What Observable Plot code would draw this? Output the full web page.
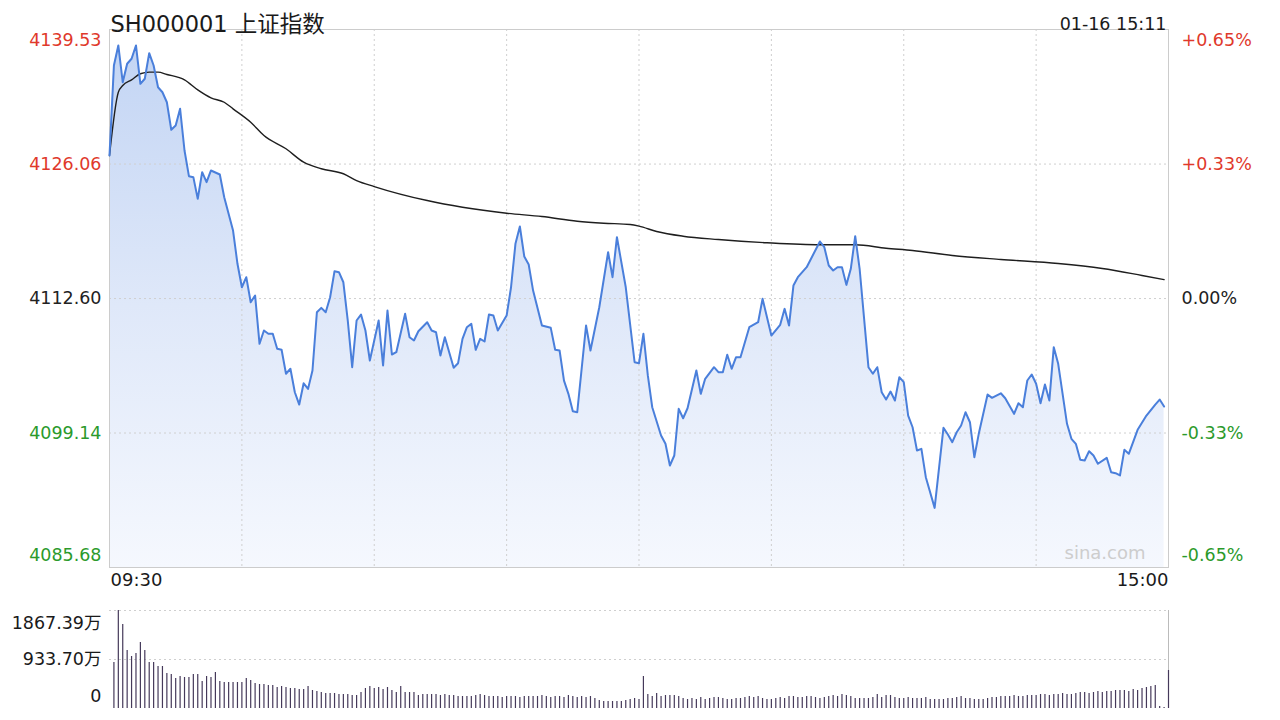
<!DOCTYPE html>
<html><head><meta charset="utf-8">
<script src="https://cdn.jsdelivr.net/npm/d3@7"></script>
<script src="https://cdn.jsdelivr.net/npm/@observablehq/plot@0.6"></script>
<style>
body{margin:0;background:#fff;width:1280px;height:720px;overflow:hidden;position:relative;font-family:"DejaVu Sans","Noto Sans CJK SC",sans-serif}
#main{position:absolute;left:0;top:0}
#vol{position:absolute;left:0;top:600px}
</style></head><body>
<div id="main"></div><div id="vol"></div>
<script>
// ---------- data ----------
const titleText = "SH000001 上证指数";
const stampText = "01-16 15:11";
const timeLabels = ["09:30", "15:00"];
const watermark = "sina.com";

const priceTicks = [4139.53, 4126.06, 4112.60, 4099.14, 4085.68];
const priceTickLabels = ["4139.53", "4126.06", "4112.60", "4099.14", "4085.68"];
const pctTickLabels = ["+0.65%", "+0.33%", "0.00%", "-0.33%", "-0.65%"];
const tickColors = ["#e0392b", "#e0392b", "#222222", "#2b9a2b", "#2b9a2b"];
const gridMinutes = [30, 60, 90, 120, 150, 180, 210];

const priceMin = [0,1,2,3,4,5,6,7,8,9,10,11,12,13,14,15,16,17,18,19,20,21,22,23,25,26,28,29,30,31,32,33,34,35,36,37,38,39,40,41,42,43,44,45,46,47,48,49,50,51,52,53,54,55,56,57,58,59,61,62,63,64,65,67,68,69,70,72,73,74,75,76,78,79,80,81,82,83,84,85,86,87,88,90,91,92,93,94,95,96,98,100,101,102,103,104,105,106,108,109,111,113,114,115,117,119,120,121,122,123,125,126,127,128,129,130,131,133,134,135,137,138,139,140,141,142,143,145,147,148,150,152,153,154,155,156,157,158,161,162,163,164,165,166,167,168,169,170,172,173,174,175,176,177,178,179,180,181,182,183,184,185,187,189,190,191,192,193,194,195,196,197,199,200,202,203,205,206,207,208,209,210,211,212,213,214,215,217,218,219,220,221,222,223,224,226,227,228,229,230,231,233,235,237,238,239];
const priceVal = [4126.92,4135.93,4137.93,4134.25,4136.10,4136.60,4137.93,4134.09,4134.60,4137.16,4135.93,4133.75,4133.25,4132.25,4129.49,4129.92,4131.59,4127.42,4124.85,4124.75,4122.58,4125.25,4124.25,4125.42,4125.02,4122.74,4119.41,4116.08,4113.73,4114.74,4112.23,4112.90,4108.07,4109.40,4109.07,4109.07,4107.57,4107.47,4105.07,4105.57,4103.22,4101.99,4104.12,4103.56,4105.40,4111.23,4111.67,4111.23,4112.73,4115.34,4115.24,4114.23,4110.40,4105.73,4110.40,4111.00,4109.40,4106.40,4110.40,4105.90,4111.40,4107.00,4107.23,4111.07,4108.73,4108.40,4109.33,4110.23,4109.40,4109.23,4106.90,4108.73,4105.67,4106.13,4108.57,4109.73,4110.07,4107.47,4108.57,4108.30,4111.00,4110.90,4109.40,4110.90,4113.73,4118.08,4119.81,4116.81,4116.01,4113.40,4109.90,4109.67,4107.47,4107.40,4104.39,4103.06,4101.32,4101.22,4109.90,4107.40,4111.73,4117.24,4114.74,4118.74,4113.73,4106.23,4106.13,4109.07,4104.90,4101.72,4098.89,4098.06,4095.89,4096.89,4101.56,4100.62,4101.62,4105.40,4103.06,4104.57,4105.73,4105.23,4105.23,4106.97,4105.57,4106.73,4106.73,4109.73,4110.23,4112.57,4108.90,4109.97,4111.57,4109.90,4113.90,4114.74,4115.24,4115.74,4118.31,4117.74,4115.91,4115.41,4115.74,4115.74,4113.97,4115.58,4118.84,4115.58,4105.73,4105.07,4105.73,4103.22,4102.49,4103.29,4102.39,4104.73,4104.23,4100.89,4099.72,4097.39,4097.56,4094.72,4091.65,4099.66,4098.99,4098.22,4099.22,4099.89,4101.22,4100.22,4096.72,4099.06,4102.99,4102.66,4103.12,4102.62,4101.06,4102.12,4101.72,4104.40,4105.00,4104.07,4102.12,4103.99,4102.39,4107.73,4106.07,4100.06,4098.56,4098.06,4096.46,4096.39,4097.32,4096.89,4096.06,4096.66,4095.22,4095.12,4094.89,4097.46,4097.06,4099.46,4100.89,4101.99,4102.49,4101.79];

const avgMin = [0,2,3,5,7,9,11,13,17,20,23,26,28,32,35,40,44,48,53,56,60,72,80,90,98,106,112,118,120,124,130,138,149,161,169,176,182,191,202,215,225,234,239];
const avgVal = [4126.92,4133.25,4133.92,4134.49,4135.10,4135.26,4135.26,4135.03,4134.49,4133.49,4132.69,4132.25,4131.59,4130.25,4128.92,4127.59,4126.25,4125.59,4125.09,4124.41,4123.81,4122.41,4121.74,4121.14,4120.81,4120.34,4120.14,4120.01,4119.85,4119.31,4118.84,4118.51,4118.18,4117.98,4117.98,4117.64,4117.41,4116.91,4116.51,4116.11,4115.61,4114.91,4114.50];

// volume, 万, minutes 1..240
const volume = [876,1867.39,1600,1105,991,1048,1257,1105,876,876,800,800,667,648,572,610,591,591,648,648,514,610,591,686,514,495,495,495,495,495,572,533,476,457,457,438,438,400,419,400,381,381,362,362,419,343,324,305,286,286,286,267,267,267,248,248,305,381,419,381,400,362,400,343,305,419,305,305,305,248,267,267,267,267,248,267,248,248,229,229,229,229,248,267,248,229,229,229,210,229,229,229,210,229,229,229,229,248,229,210,229,229,210,248,229,210,229,210,229,191,152,133,133,133,133,133,152,171,191,171,
610,267,229,286,229,248,248,248,229,191,171,191,171,210,171,191,210,210,191,171,171,191,191,210,229,210,229,191,171,171,191,210,191,229,229,210,210,229,229,210,191,210,229,248,229,267,248,229,191,191,191,191,210,267,210,248,248,210,191,191,210,191,191,191,210,171,171,171,171,191,191,210,229,191,191,171,171,171,191,210,210,229,229,229,248,229,229,248,248,248,267,267,248,267,267,286,267,267,286,305,305,286,305,324,305,324,324,343,343,343,324,362,343,381,400,419,438,38,19,724];
const volTicks = [1867.39, 933.70, 0];
const volTickLabels = ["1867.39万", "933.70万", "0"];

// ---------- build ----------
const price = priceMin.map((m, i) => ({m, p: priceVal[i]}));
const avg = avgMin.map((m, i) => ({m, p: avgVal[i]}));
const vol = volume.map((v, i) => ({m: i + 1, v}));
const ticks = priceTicks.map((v, i) => ({v, label: priceTickLabels[i], pct: pctTickLabels[i], color: tickColors[i]}));
const yMin = priceTicks[priceTicks.length - 1], yMax = priceTicks[0];
const FONT = '"DejaVu Sans","Noto Sans CJK SC",sans-serif';
const FS = 17.5;

const grid = {stroke: "#cfcfcf", strokeDasharray: "2,3", strokeWidth: 1};

const main = Plot.plot({
  width: 1280, height: 600,
  marginLeft: 109, marginRight: 112, marginTop: 29, marginBottom: 33,
  x: {domain: [0, 240], axis: null},
  y: {domain: [yMin, yMax], axis: null},
  color: {type: "identity"},
  style: {background: "transparent", fontFamily: FONT, overflow: "visible"},
  marks: [
    Plot.areaY(price, {x: "m", y1: () => yMin, y2: "p", fill: "url(#fillGrad)"}),
    Plot.ruleX(gridMinutes, {...grid}),
    Plot.ruleY(priceTicks.slice(1, 4), {...grid}),
    Plot.frame({stroke: "#cccccc", strokeWidth: 1}),
    Plot.line(avg, {x: "m", y: "p", stroke: "#1e1e1e", strokeWidth: 1.4, curve: "monotone-x"}),
    Plot.line(price, {x: "m", y: "p", stroke: "#4a7fdb", strokeWidth: 2, strokeLinejoin: "round"}),
    // left price labels
    Plot.text(ticks.slice(0, 1), {y: "v", text: "label", fill: "color", frameAnchor: "left", textAnchor: "end", dx: -8, dy: 11, fontSize: FS}),
    Plot.text(ticks.slice(1, 4), {y: "v", text: "label", fill: "color", frameAnchor: "left", textAnchor: "end", dx: -8, fontSize: FS}),
    Plot.text(ticks.slice(4), {y: "v", text: "label", fill: "color", frameAnchor: "left", textAnchor: "end", dx: -8, dy: -12, fontSize: FS}),
    // right pct labels
    Plot.text(ticks.slice(0, 1), {y: "v", text: "pct", fill: "color", frameAnchor: "right", textAnchor: "start", dx: 13, dy: 11, fontSize: FS}),
    Plot.text(ticks.slice(1, 4), {y: "v", text: "pct", fill: "color", frameAnchor: "right", textAnchor: "start", dx: 13, fontSize: FS}),
    Plot.text(ticks.slice(4), {y: "v", text: "pct", fill: "color", frameAnchor: "right", textAnchor: "start", dx: 13, dy: -12, fontSize: FS}),
    // title & stamp
    Plot.text([titleText], {frameAnchor: "top-left", textAnchor: "start", dx: 1, dy: -13.5, fontSize: 22.5, fill: "#1a1a1a"}),
    Plot.text([stampText], {frameAnchor: "top-right", textAnchor: "end", dx: -2, dy: -12, fontSize: 17.5, fill: "#1a1a1a"}),
    // time labels
    Plot.text([timeLabels[0]], {frameAnchor: "bottom-left", textAnchor: "start", dx: 1, dy: 18, fontSize: 18, fill: "#1a1a1a"}),
    Plot.text([timeLabels[1]], {frameAnchor: "bottom-right", textAnchor: "end", dx: 0, dy: 18, fontSize: 18, fill: "#1a1a1a"}),
    // watermark
    Plot.text([watermark], {frameAnchor: "bottom-right", textAnchor: "end", dx: -23, dy: -9, fontSize: 18, fill: "#cdcdcd"})
  ]
});
const defs = document.createElementNS("http://www.w3.org/2000/svg", "defs");
defs.innerHTML = '<linearGradient id="fillGrad" x1="0" y1="0" x2="0" y2="1"><stop offset="0" stop-color="#c3d5f4"/><stop offset="0.5" stop-color="#dfe8f9"/><stop offset="1" stop-color="#f5f8fe"/></linearGradient>';
main.prepend(defs);
document.getElementById("main").append(main);

const volPlot = Plot.plot({
  width: 1280, height: 120,
  marginLeft: 109, marginRight: 112, marginTop: 10, marginBottom: 12,
  x: {domain: [0, 240], axis: null},
  y: {domain: [0, volTicks[0]], axis: null},
  style: {background: "transparent", fontFamily: FONT, overflow: "visible"},
  marks: [
    Plot.ruleY(volTicks.slice(0, 2), {...grid}),
    Plot.ruleX([240], {y1: () => 0, y2: () => volTicks[0], stroke: "#bbbbbb", strokeWidth: 1}),
    Plot.ruleX(vol, {x: "m", y1: () => 0, y2: "v", stroke: "#45395a", strokeWidth: 1.2}),
    Plot.text([volTicks[0]], {y: d => d, text: () => volTickLabels[0], frameAnchor: "left", textAnchor: "end", dx: -8, dy: 13, fontSize: FS, fill: "#1a1a1a"}),
    Plot.text([volTicks[1]], {y: d => d, text: () => volTickLabels[1], frameAnchor: "left", textAnchor: "end", dx: -8, fontSize: FS, fill: "#1a1a1a"}),
    Plot.text([volTicks[2]], {y: d => d, text: () => volTickLabels[2], frameAnchor: "left", textAnchor: "end", dx: -8, dy: -12, fontSize: FS, fill: "#1a1a1a"})
  ]
});
document.getElementById("vol").append(volPlot);
</script></body></html>
